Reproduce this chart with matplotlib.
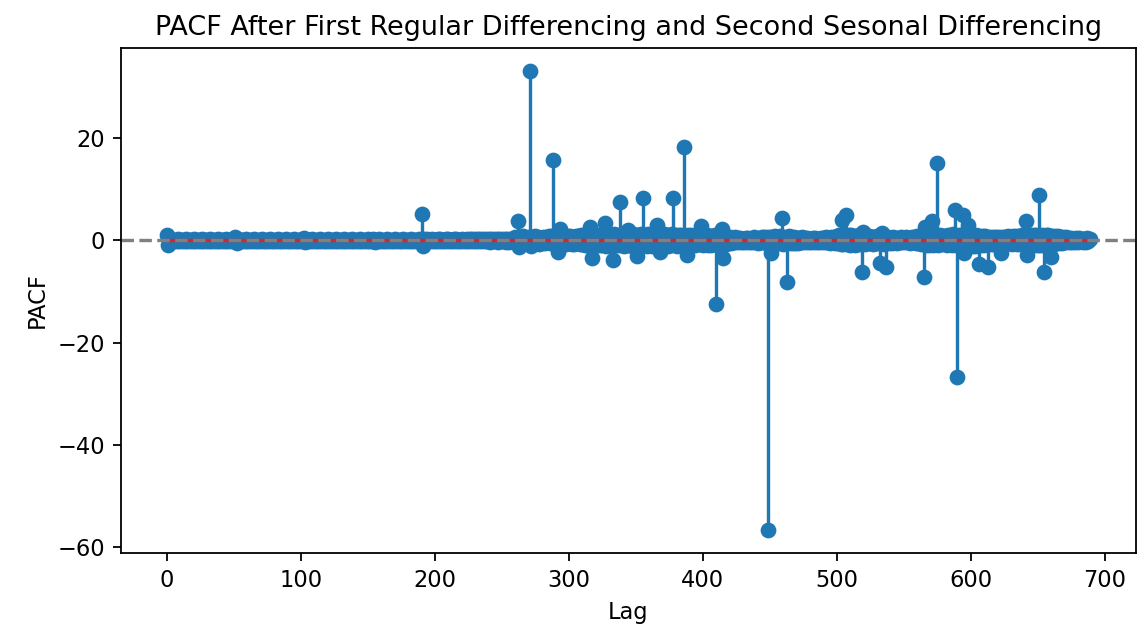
import numpy as np
import matplotlib
matplotlib.use("Agg")
import matplotlib.pyplot as plt

# PACF values, one row = 10 lags
pacf_0_259 = [
    1.0, -0.9, 0.2, -0.1, 0.1, -0.2, 0.1, -0.1, 0.2, -0.1,
    0.1, -0.2, 0.1, -0.1, 0.2, -0.1, 0.1, -0.2, 0.1, -0.1,
    0.2, -0.1, 0.1, -0.2, 0.1, -0.1, 0.2, -0.1, 0.1, -0.2,
    0.1, -0.1, 0.2, -0.1, 0.1, -0.2, 0.1, -0.1, 0.2, -0.1,
    0.1, -0.2, 0.1, -0.1, 0.2, -0.1, 0.1, -0.2, 0.1, -0.1,
    0.2, 0.5, -0.5, 0.2, -0.1, 0.1, -0.2, 0.1, -0.1, 0.2,
    -0.1, 0.1, -0.2, 0.1, -0.1, 0.2, -0.1, 0.1, -0.2, 0.1,
    -0.1, 0.2, -0.1, 0.1, -0.2, 0.1, -0.1, 0.2, -0.1, 0.1,
    -0.2, 0.1, -0.1, 0.2, -0.1, 0.1, -0.2, 0.1, -0.1, 0.2,
    -0.1, 0.1, -0.2, 0.1, -0.1, 0.2, -0.1, 0.1, -0.2, 0.1,
    -0.1, 0.2, 0.4, -0.4, 0.1, -0.2, 0.1, -0.1, 0.2, -0.1,
    0.1, -0.2, 0.1, -0.1, 0.2, -0.1, 0.1, -0.2, 0.1, -0.1,
    0.2, -0.1, 0.1, -0.2, 0.1, -0.1, 0.2, -0.1, 0.1, -0.2,
    0.1, -0.1, 0.2, -0.1, 0.1, -0.2, 0.1, -0.1, 0.2, -0.1,
    0.1, -0.2, 0.1, -0.1, 0.2, -0.1, 0.1, -0.2, 0.1, -0.1,
    0.2, -0.1, 0.1, -0.2, 0.3, -0.3, 0.1, -0.1, 0.2, -0.1,
    0.1, -0.2, 0.1, -0.1, 0.2, -0.1, 0.1, -0.2, 0.1, -0.1,
    0.2, -0.1, 0.1, -0.2, 0.1, -0.1, 0.2, -0.1, 0.1, -0.2,
    0.1, -0.1, 0.2, -0.1, 0.1, -0.2, 0.1, -0.1, 0.2, -0.2,
    5.0, -1.2, 0.3, -0.2, 0.2, -0.1, 0.1, -0.2, 0.2, -0.1,
    0.1, -0.2, 0.2, -0.1, 0.2, -0.2, 0.1, -0.1, 0.2, -0.2,
    0.2, -0.1, 0.1, -0.2, 0.2, -0.1, 0.2, -0.2, 0.1, -0.2,
    0.2, -0.2, 0.1, -0.2, 0.2, -0.1, 0.2, -0.2, 0.2, -0.2,
    0.2, -0.2, 0.2, -0.1, 0.2, -0.2, 0.2, -0.2, 0.3, -0.2,
    0.2, -0.3, 0.2, -0.2, 0.3, -0.2, 0.2, -0.3, 0.2, -0.2,
    0.3, -0.2, 0.3, -0.3, 0.2, -0.3, 0.3, -0.2, 0.3, -0.3,
]

pacf_260_689 = [
    0.5, -0.4, 3.8, -1.3, 0.6, -0.5, 0.7, -0.6, 0.4, -0.6,
    0.6, 33.0, -1.1, 0.5, -0.6, 0.7, -0.4, 0.6, -0.7, 0.4,
    -0.5, 0.6, -0.6, 0.5, -0.4, 0.7, -0.6, 0.8, 15.7, -0.8,
    0.7, -0.7, -2.3, 2.2, -0.9, 0.8, -0.7, 0.6, -0.8, 0.7,
    -0.6, 0.8, -0.8, 0.6, -0.7, 0.8, -0.6, 0.7, -0.8, 0.9,
    -0.8, 0.9, -0.9, 1.0, -1.0, 0.8, 2.6, -3.6, 0.9, -1.0,
    1.0, -0.9, 0.9, -1.0, 1.0, -0.9, 1.2, 3.3, -1.1, 0.9,
    -1.0, 1.0, -1.2, -3.8, 1.1, -0.9, 1.0, -1.0, 7.5, -1.0,
    0.9, -1.1, 1.0, -1.0, 2.0, -1.0, 1.0, -1.2, 1.1, -0.9,
    1.0, -3.1, 1.0, -1.1, 1.2, 8.3, -1.0, 0.9, -1.2, 1.1,
    -1.0, 1.0, -1.2, 1.2, -0.9, 1.1, 2.9, -1.0, -2.3, 1.0,
    -1.1, 1.2, -1.0, 1.0, -1.2, 1.0, -0.9, 1.1, 8.2, -1.0,
    1.0, -1.1, 1.0, -1.0, 0.9, -1.0, 18.1, -1.0, -2.9, 1.0,
    -0.9, 1.0, -1.0, 0.8, -1.0, 0.9, -0.8, 1.0, -0.8, 2.7,
    -0.9, 1.0, -0.8, 0.9, -1.0, 0.8, -0.9, 0.8, -0.8, 0.9,
    -12.4, 0.8, -0.9, 0.8, 2.2, -3.5, 0.7, -0.8, 0.6, -0.6,
    0.5, -0.6, 0.4, -0.4, 0.5, -0.4, 0.4, -0.3, 0.4, -0.4,
    0.3, -0.4, 0.4, -0.3, 0.4, -0.4, 0.3, -0.4, 0.5, -0.4,
    0.4, -0.5, 0.4, -0.4, 0.6, -0.4, 0.5, -0.6, 0.6, -56.6,
    0.6, -2.5, 0.6, -0.6, 0.7, -0.5, 0.6, -0.6, 0.8, 4.3,
    -0.7, 0.6, -0.6, -8.2, 0.7, -0.6, 0.5, -0.6, 0.6, -0.5,
    0.4, -0.5, 0.4, -0.4, 0.5, -0.4, 0.4, -0.3, 0.4, -0.4,
    0.3, -0.4, 0.4, -0.3, 0.4, -0.4, 0.3, -0.4, 0.4, -0.3,
    0.4, -0.4, 0.5, -0.4, 0.4, -0.5, 0.6, -0.4, 0.6, -0.6,
    0.8, -0.6, 0.9, -0.7, 3.9, -0.8, 1.0, 4.8, -0.8, 1.0,
    -0.9, 1.0, -0.8, 0.8, -1.0, 0.8, -0.7, 0.9, -0.8, -6.3,
    1.6, -0.8, 0.7, -0.6, 0.8, -0.6, 0.6, -0.7, 0.6, -0.6,
    0.7, -0.6, -4.4, 0.6, 1.3, -0.8, 0.6, -5.2, 0.6, -0.5,
    0.4, -0.6, 0.5, -0.4, 0.4, -0.5, 0.4, -0.4, 0.5, -0.4,
    0.4, -0.3, 0.5, -0.4, 0.4, -0.5, 0.6, -0.4, 0.6, -0.6,
    0.7, -0.6, 0.8, -0.8, 1.0, -7.2, 2.6, -0.9, 1.0, -1.0,
    0.9, 3.8, -1.0, 1.0, -0.8, 15.1, -1.0, 0.9, -0.8, 0.8,
    -0.7, 0.8, -0.9, 1.0, -0.8, 1.0, -1.0, 1.1, 5.9, -1.0,
    -26.8, 1.0, -1.1, 1.0, 4.9, -2.6, 1.2, -1.0, 2.9, -1.2,
    1.0, -1.1, 1.0, -1.2, 0.9, -1.0, -4.6, 0.8, -1.0, 0.8,
    -0.9, 0.7, -0.8, -5.2, 0.6, -0.8, 0.6, -0.7, 0.6, -0.6,
    0.5, -0.6, 0.6, -2.6, 0.6, -0.5, 0.6, -0.6, 0.7, -0.6,
    0.6, -0.7, 0.8, -0.6, 0.8, -0.7, 0.8, -0.8, 0.9, -0.8,
    0.8, 3.7, -2.9, 1.0, -0.9, 1.0, -0.8, 1.0, -1.0, 0.9,
    -1.0, 8.8, -0.9, 1.0, -1.0, -6.3, 0.9, -0.8, 1.0, -0.9,
    -3.4, 0.8, -0.8, 0.7, -0.6, 0.8, -0.6, 0.6, -0.5, 0.6,
    -0.4, 0.5, -0.4, 0.4, -0.3, 0.4, -0.4, 0.3, -0.4, 0.4,
    -0.3, 0.4, -0.2, 0.3, -0.4, 0.2, -0.3, 0.4, -0.2, 0.3,
]

pacf_vals = np.array(pacf_0_259 + pacf_260_689)
lags = np.arange(len(pacf_vals))

# default matplotlib styling, rendered at a higher dpi like the original
dpi = 162
fig = plt.figure(figsize=(1148 / dpi, 626 / dpi), dpi=dpi)
ax = fig.add_axes([0.1054, 0.1166, 0.8841, 0.8067])

ax.stem(lags, pacf_vals)
ax.axhline(0, color='grey', linestyle='--')

ax.set_title('PACF After First Regular Differencing and Second Sesonal Differencing')
ax.set_xlabel('Lag')
ax.set_ylabel('PACF')

fig.savefig('out.png', dpi=dpi)
